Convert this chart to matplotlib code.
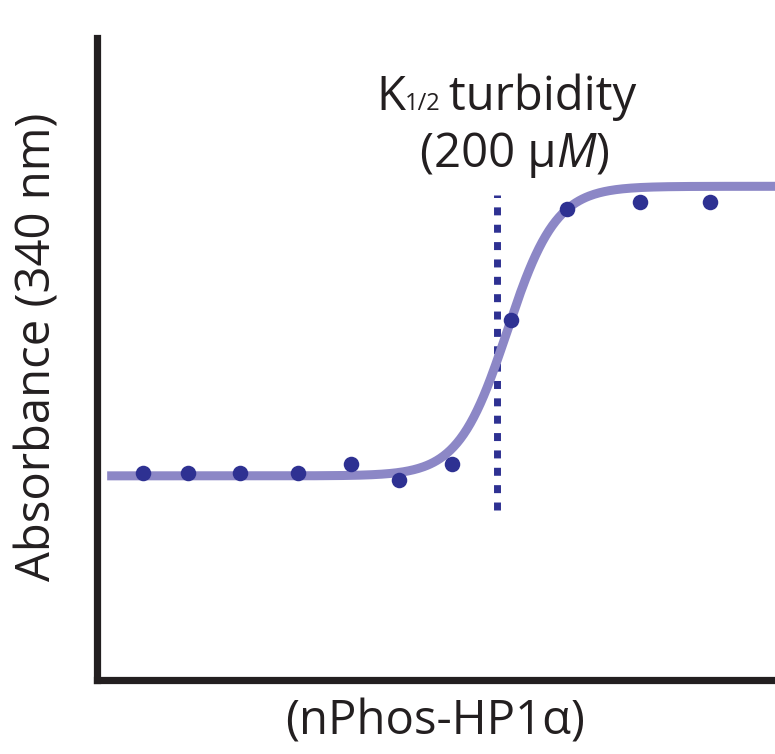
import numpy as np
import matplotlib.pyplot as plt

# measured points (arbitrary units, axis 0-100 both ways)
conc = [6.8, 13.4, 21.1, 29.6, 37.5, 44.5, 52.4, 61.1, 69.3, 80.1, 90.4]
absorb = [32.3, 32.3, 32.3, 32.3, 33.6, 31.2, 33.6, 56.1, 73.4, 74.5, 74.5]

# sigmoid fit parameters
fit_low, fit_high = 31.8, 76.9
fit_mid, fit_slope = 60.5, 3.6
k_half = 59.0  # dotted line position
k_line_span = (26.5, 75.5)

font = 'Open Sans'
fs = 34
W, H = 775, 754

fig = plt.figure(figsize=(W / 100, H / 100), dpi=100)
ax = fig.add_axes([97 / W, (H - 680) / H, 1 - 97 / W, (680 - 38) / H])
ax.set_xlim(0, 100)
ax.set_ylim(0, 100)

xs = np.linspace(1.5, 100, 400)
ys = fit_low + (fit_high - fit_low) / (1 + np.exp(-(xs - fit_mid) / fit_slope))
ax.plot(xs, ys, color='#8C87C6', lw=6.5, solid_capstyle='butt', zorder=2)

ax.plot([k_half, k_half], k_line_span, color='#2E3192', lw=5,
        dashes=(1.15, 1.35), zorder=1)
ax.scatter(conc, absorb, s=125, color='#2E3192', zorder=3, linewidths=0)

for side in ['top', 'right']:
    ax.spines[side].set_visible(False)
for side in ['left', 'bottom']:
    ax.spines[side].set_linewidth(5.2)
    ax.spines[side].set_color('#231F20')
ax.spines['left'].set_capstyle('projecting')
ax.spines['bottom'].set_capstyle('projecting')
ax.set_xticks([])
ax.set_yticks([])


def px(x, y):
    return x / W, 1 - y / H


fig.text(*px(38, 347), 'Absorbance (340 nm)', rotation=90, ha='center', va='center',
         fontsize=fs, family=font, color='#231F20')
fig.text(*px(435, 722), '(nPhos-HP1\u03b1)', ha='center', va='center',
         fontsize=fs, family=font, color='#231F20')

# annotation pieces placed one after another on a shared baseline
renderer = fig.canvas.get_renderer()


def chain(x0, y0, pieces):
    x = x0 / W
    for txt, size, style in pieces:
        t = fig.text(x, 1 - y0 / H, txt, fontsize=size, family=font, style=style,
                     ha='left', va='baseline', color='#231F20')
        bb = t.get_window_extent(renderer)
        x = bb.x1 / W


chain(376, 110, [('K', fs, 'normal'), ('1/2', fs * 0.5, 'normal'),
                 ('\u2009turbidity', fs, 'normal')])
chain(420, 167, [('(200 \u03bc', fs, 'normal'), ('M', fs, 'italic'),
                 (')', fs, 'normal')])

fig.savefig('out.png', dpi=100)
